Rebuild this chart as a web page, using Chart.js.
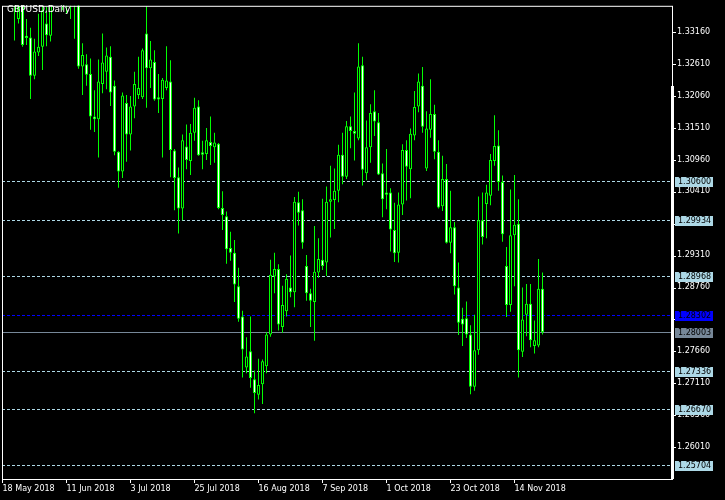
<!DOCTYPE html>
<html>
<head>
<meta charset="utf-8">
<title>GBPUSD Daily</title>
<script src="https://cdn.jsdelivr.net/npm/chart.js@4.4.1/dist/chart.umd.min.js"></script>
<style>
  html, body { margin: 0; padding: 0; background: #000; }
  #chart { display: block; }
</style>
</head>
<body>
<canvas id="chart" width="725" height="500"></canvas>
<script>
// daily bars, one per weekday, starting 18 May 2018
const opens = [
  1.3475, 1.3465, 1.3445, 1.3420, 1.3340, 1.3375, 1.3311, 1.3308, 1.3242, 1.3282,
  1.3292, 1.3332, 1.3311, 1.3372, 1.3395, 1.3410, 1.3385, 1.3400, 1.3380, 1.3400,
  1.3258, 1.3262, 1.3245, 1.3172, 1.3167, 1.3228, 1.3249, 1.3275, 1.3225, 1.3111,
  1.3077, 1.3195, 1.3141, 1.3189, 1.3209, 1.3205, 1.3315, 1.3255, 1.3266, 1.3205,
  1.3202, 1.3221, 1.3232, 1.3113, 1.3067, 1.3013, 1.3120, 1.3095, 1.3144, 1.3189,
  1.3110, 1.3107, 1.3128, 1.3119, 1.3125, 1.3014, 1.3000, 1.2945, 1.2937, 1.2879,
  1.2827, 1.2739, 1.2767, 1.2719, 1.2692, 1.2710, 1.2741, 1.2796, 1.2896, 1.2909,
  1.2809, 1.2836, 1.2877, 1.2869, 1.3024, 1.3010, 1.2914, 1.2867, 1.2852, 1.2903,
  1.2925, 1.2920, 1.3025, 1.3028, 1.3044, 1.3106, 1.3068, 1.3155, 1.3147, 1.3134,
  1.3260, 1.3074, 1.3119, 1.3181, 1.3162, 1.3074, 1.3041, 1.3041, 1.2976, 1.2937,
  1.3020, 1.3114, 1.3081, 1.3139, 1.3189, 1.3225, 1.3082, 1.3149, 1.3176, 1.3111,
  1.3017, 1.3064, 1.2954, 1.2981, 1.2877, 1.2823, 1.2824, 1.2796, 1.2706, 1.2769,
  1.2993, 1.3021, 1.3035, 1.3095, 1.3122, 1.3059, 1.2914, 1.2847, 1.2967, 1.2987,
  1.2766, 1.2830, 1.2849, 1.2776, 1.2777, 1.2875
];
const highs = [
  1.3510, 1.3485, 1.3470, 1.3440, 1.3370, 1.3390, 1.3340, 1.3325, 1.3306, 1.3349,
  1.3363, 1.3361, 1.3385, 1.3405, 1.3420, 1.3430, 1.3410, 1.3425, 1.3400, 1.3415,
  1.3298, 1.3279, 1.3272, 1.3217, 1.3270, 1.3315, 1.3291, 1.3293, 1.3234, 1.3112,
  1.3213, 1.3209, 1.3207, 1.3249, 1.3275, 1.3289, 1.3362, 1.3302, 1.3286, 1.3245,
  1.3238, 1.3293, 1.3269, 1.3116, 1.3084, 1.3141, 1.3158, 1.3159, 1.3204, 1.3200,
  1.3130, 1.3152, 1.3172, 1.3144, 1.3126, 1.3043, 1.3008, 1.2973, 1.2959, 1.2911,
  1.2837, 1.2791, 1.2827, 1.2734, 1.2754, 1.2753, 1.2800, 1.2925, 1.2937, 1.2917,
  1.2880, 1.2900, 1.2932, 1.3033, 1.3042, 1.3029, 1.2933, 1.2875, 1.2983, 1.2962,
  1.3030, 1.3051, 1.3087, 1.3082, 1.3123, 1.3144, 1.3164, 1.3172, 1.3213, 1.3298,
  1.3275, 1.3165, 1.3193, 1.3217, 1.3178, 1.3091, 1.3116, 1.3048, 1.3023, 1.3041,
  1.3124, 1.3131, 1.3151, 1.3216, 1.3246, 1.3257, 1.3181, 1.3236, 1.3192, 1.3131,
  1.3104, 1.3090, 1.3044, 1.2990, 1.2920, 1.2842, 1.2853, 1.2812, 1.2830, 1.3034,
  1.3041, 1.3054, 1.3107, 1.3174, 1.3148, 1.3070, 1.2947, 1.3046, 1.3071, 1.3029,
  1.2877, 1.2883, 1.2883, 1.2820, 1.2926, 1.2903
];
const lows = [
  1.3450, 1.3430, 1.3395, 1.3303, 1.3332, 1.3292, 1.3295, 1.3202, 1.3236, 1.3276,
  1.3252, 1.3293, 1.3301, 1.3368, 1.3375, 1.3355, 1.3349, 1.3340, 1.3306, 1.3254,
  1.3209, 1.3225, 1.3149, 1.3145, 1.3101, 1.3212, 1.3219, 1.3190, 1.3105, 1.3049,
  1.3066, 1.3094, 1.3113, 1.3169, 1.3202, 1.3202, 1.3187, 1.3221, 1.3199, 1.3178,
  1.3101, 1.3217, 1.3067, 1.3010, 1.2970, 1.2993, 1.3081, 1.3071, 1.3130, 1.3104,
  1.3081, 1.3097, 1.3088, 1.3092, 1.3012, 1.2976, 1.2918, 1.2923, 1.2852, 1.2818,
  1.2722, 1.2729, 1.2704, 1.2660, 1.2684, 1.2676, 1.2729, 1.2792, 1.2867, 1.2803,
  1.2799, 1.2827, 1.2860, 1.2843, 1.2984, 1.2944, 1.2854, 1.2809, 1.2785, 1.2894,
  1.2907, 1.2897, 1.2963, 1.2978, 1.3024, 1.3055, 1.3064, 1.3117, 1.3096, 1.3131,
  1.3053, 1.3062, 1.3092, 1.3138, 1.3071, 1.2998, 1.3012, 1.2939, 1.2921, 1.2920,
  1.3002, 1.3027, 1.3031, 1.3131, 1.3179, 1.3144, 1.3078, 1.3135, 1.3098, 1.3013,
  1.3009, 1.2953, 1.2936, 1.2865, 1.2795, 1.2776, 1.2790, 1.2693, 1.2699, 1.2761,
  1.2951, 1.2962, 1.3019, 1.3087, 1.3044, 1.2956, 1.2826, 1.2835, 1.2879, 1.2722,
  1.2757, 1.2793, 1.2774, 1.2763, 1.2774, 1.2796
];
const closes = [
  1.3465, 1.3445, 1.3420, 1.3385, 1.3361, 1.3295, 1.3307, 1.3242, 1.3284, 1.3292,
  1.3355, 1.3312, 1.3372, 1.3395, 1.3410, 1.3385, 1.3400, 1.3380, 1.3395, 1.3258,
  1.3278, 1.3244, 1.3172, 1.3167, 1.3232, 1.3265, 1.3277, 1.3213, 1.3111, 1.3077,
  1.3208, 1.3141, 1.3189, 1.3228, 1.3221, 1.3286, 1.3255, 1.3270, 1.3201, 1.3201,
  1.3235, 1.3234, 1.3114, 1.3066, 1.3013, 1.3131, 1.3097, 1.3144, 1.3187, 1.3105,
  1.3106, 1.3131, 1.3121, 1.3127, 1.3014, 1.3002, 1.2943, 1.2937, 1.2882, 1.2823,
  1.2770, 1.2758, 1.2721, 1.2695, 1.2709, 1.2750, 1.2796, 1.2899, 1.2909, 1.2813,
  1.2847, 1.2892, 1.2869, 1.3025, 1.3006, 1.2954, 1.2867, 1.2854, 1.2904, 1.2926,
  1.2914, 1.3025, 1.3029, 1.3044, 1.3106, 1.3068, 1.3155, 1.3147, 1.3142, 1.3258,
  1.3080, 1.3119, 1.3178, 1.3163, 1.3072, 1.3029, 1.3037, 1.2977, 1.2936, 1.3020,
  1.3114, 1.3085, 1.3142, 1.3188, 1.3232, 1.3154, 1.3151, 1.3176, 1.3111, 1.3015,
  1.3064, 1.2954, 1.2981, 1.2879, 1.2816, 1.2813, 1.2796, 1.2706, 1.2769, 1.2993,
  1.2964, 1.3041, 1.3097, 1.3121, 1.3059, 1.2969, 1.2847, 1.2967, 1.2985, 1.2769,
  1.2822, 1.2849, 1.2786, 1.2786, 1.2875, 1.28003
];

// one date label every 16 bars
const dateLabels = [
  "18 May 2018", "11 Jun 2018", "3 Jul 2018", "25 Jul 2018", "16 Aug 2018",
  "7 Sep 2018", "1 Oct 2018", "23 Oct 2018", "14 Nov 2018"
];
const dateStep = 16;

const priceTicks = [
  1.26010, 1.26560, 1.27110, 1.27660, 1.28210, 1.28760, 1.29310,
  1.29860, 1.30410, 1.30960, 1.31510, 1.32060, 1.32610, 1.33160
];

// pivot levels (dashed) and current bid (solid)
const pivotLevels = [1.30600, 1.29934, 1.28968, 1.28302, 1.27336, 1.26670, 1.25704];
const pivotMain = 1.28302;
const bidPrice = 1.28003;

const title = "GBPUSD,Daily";

const GREEN = "#00ff00";
const LIGHTBLUE = "#add8e6";
const BLUE = "#0000ff";
const SLATE = "#778899";

const bodies = opens.map((o, i) => ({ x: i, y: [o, closes[i]] }));
const wicks = lows.map((l, i) => ({ x: i, y: [l, highs[i]] }));
const bodyFill = opens.map((o, i) => (closes[i] >= o ? "#000000" : "#ffffff"));

const overlay = {
  id: "overlay",
  beforeDatasetsDraw(chart) {
    const { ctx, chartArea: a, scales } = chart;
    ctx.save();
    ctx.lineWidth = 1;
    ctx.setLineDash([3, 2]);
    pivotLevels.forEach((v) => {
      const py = Math.round(scales.y.getPixelForValue(v)) + 0.5;
      ctx.strokeStyle = v === pivotMain ? BLUE : LIGHTBLUE;
      ctx.beginPath();
      ctx.moveTo(a.left, py);
      ctx.lineTo(a.right, py);
      ctx.stroke();
    });
    ctx.setLineDash([]);
    const by = Math.round(scales.y.getPixelForValue(bidPrice)) + 0.5;
    ctx.strokeStyle = SLATE;
    ctx.beginPath();
    ctx.moveTo(a.left, by);
    ctx.lineTo(a.right, by);
    ctx.stroke();
    ctx.restore();
  },
  afterDraw(chart) {
    const { ctx, chartArea: a, scales } = chart;
    ctx.save();
    // frame
    ctx.strokeStyle = "#ffffff";
    ctx.lineWidth = 1;
    ctx.strokeRect(a.left + 0.5, a.top + 0.5, a.right - a.left, a.bottom - a.top);
    ctx.fillStyle = "#ffffff";
    ctx.fillRect(a.right - 1, 86, 3, a.bottom - 86);

    // price boxes on the right
    ctx.font = "8px 'DejaVu Sans'";
    ctx.textBaseline = "middle";
    ctx.textAlign = "left";
    const box = (v, bg) => {
      const py = Math.round(scales.y.getPixelForValue(v));
      ctx.fillStyle = bg;
      ctx.fillRect(a.right + 3, py - 4, 38, 10);
      ctx.fillStyle = "#000000";
      ctx.fillText(v.toFixed(5), a.right + 6, py + 1);
    };
    pivotLevels.forEach((v) => box(v, v === pivotMain ? BLUE : LIGHTBLUE));
    box(bidPrice, SLATE);

    // symbol caption
    ctx.font = "9px 'DejaVu Sans'";
    ctx.fillStyle = "#ffffff";
    ctx.fillText(title, 7, 9.5);
    ctx.restore();
  }
};

Chart.defaults.font.family = "'DejaVu Sans'";
Chart.defaults.font.size = 8;
Chart.defaults.color = "#ffffff";

new Chart(document.getElementById("chart"), {
  type: "bar",
  data: {
    datasets: [
      {
        label: "body",
        data: bodies,
        grouped: false,
        barPercentage: 1,
        maxBarThickness: 3,
        backgroundColor: bodyFill,
        borderColor: GREEN,
        borderWidth: 1,
        borderSkipped: false,
        clip: 0
      },
      {
        label: "wick",
        data: wicks,
        grouped: false,
        barPercentage: 1,
        maxBarThickness: 1,
        backgroundColor: GREEN,
        borderWidth: 0,
        clip: 0
      }
    ]
  },
  options: {
    responsive: false,
    animation: false,
    devicePixelRatio: 1,
    layout: { padding: { left: 2, top: 2, right: 0, bottom: 0 } },
    plugins: { legend: { display: false }, tooltip: { enabled: false } },
    scales: {
      x: {
        type: "linear",
        offset: false,
        min: -0.125,
        max: 167.375,
        border: { display: false },
        grid: { offset: false, drawOnChartArea: false, drawTicks: true, tickLength: 4, color: "#ffffff" },
        afterBuildTicks(scale) {
          scale.ticks = dateLabels.map((_, i) => ({ value: i * dateStep }));
        },
        afterFit(scale) { scale.height = 21; },
        ticks: {
          autoSkip: false,
          maxRotation: 0,
          minRotation: 0,
          align: "start",
          padding: 1,
          color: "#ffffff",
          callback: (v) => dateLabels[Math.round(v / dateStep)]
        }
      },
      y: {
        type: "linear",
        position: "right",
        min: 1.25468,
        max: 1.33627,
        border: { display: false },
        grid: { drawOnChartArea: false, drawTicks: true, tickLength: 4, color: "#ffffff" },
        afterBuildTicks(scale) {
          scale.ticks = priceTicks.map((v) => ({ value: v }));
        },
        afterFit(scale) { scale.width = 53; },
        ticks: {
          autoSkip: false,
          padding: 1,
          labelOffset: -1,
          color: "#ffffff",
          callback: (v) => Number(v).toFixed(5)
        }
      }
    }
  },
  plugins: [overlay]
});
</script>
</body>
</html>
